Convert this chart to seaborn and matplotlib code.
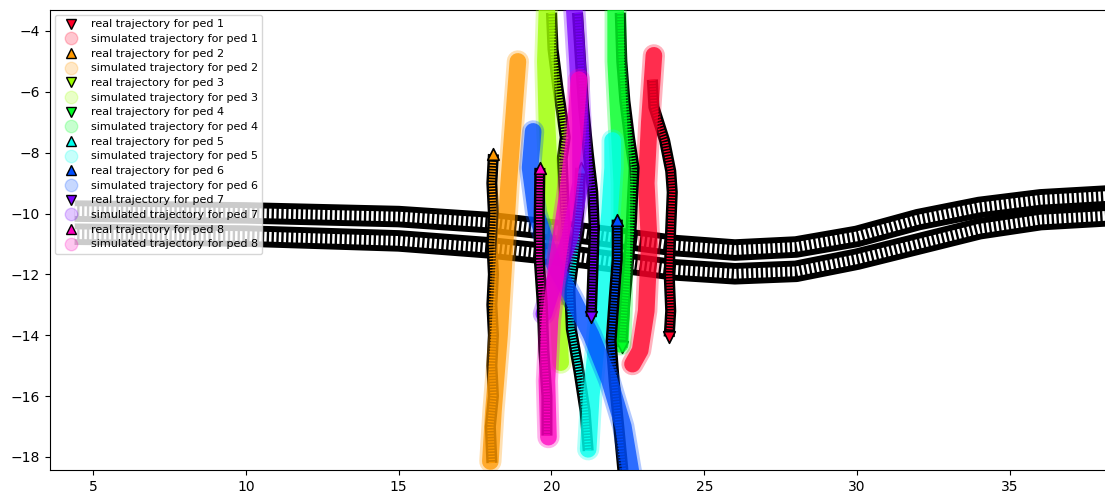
import matplotlib
matplotlib.use("Agg")
import matplotlib.pyplot as plt
from matplotlib.lines import Line2D
import seaborn as sns

# ---------------- data ----------------
ped_ids = [1, 2, 3, 4, 5, 6, 7, 8]
real_markers = ["v", "^", "v", "v", "^", "^", "v", "^"]

# horizontal agents (black bands)
band_a_x = [4.4, 10, 15, 18, 21, 24, 26, 28, 30, 32, 34, 36, 38.6]
band_a_y = [-9.92, -9.98, -10.1, -10.3, -10.65, -11.05, -11.2, -11.1, -10.75, -10.2, -9.8, -9.55, -9.4]
band_b_x = [4.4, 10, 15, 18, 21, 24, 26, 28, 30, 32, 34, 36, 38.6]
band_b_y = [-10.68, -10.74, -10.9, -11.13, -11.45, -11.85, -11.98, -11.9, -11.5, -11.0, -10.5, -10.2, -10.05]

ped1_real_x = [23.3, 23.35, 23.7, 23.9, 23.95, 23.9, 23.85, 23.9, 23.85]
ped1_real_y = [-5.6, -6.5, -7.6, -8.6, -9.3, -10.5, -12.0, -13.2, -14.05]
ped1_sim_x = [23.35, 23.2, 23.1, 23.2, 23.1, 22.9, 22.65]
ped1_sim_y = [-4.8, -7.0, -9.0, -11.0, -13.2, -14.5, -14.95]

ped2_real_x = [18.05, 18.0, 18.1, 18.05, 18.1, 18.05, 18.1, 18.05, 18.1, 18.05, 18.1]
ped2_real_y = [-18.2, -17.0, -16.0, -15.0, -14.0, -13.0, -12.0, -11.0, -10.0, -9.0, -8.05]
ped2_sim_x = [18.0, 18.1, 18.3, 18.45, 18.6, 18.75, 18.9]
ped2_sim_y = [-18.15, -16.5, -14.0, -11.5, -9.0, -7.0, -5.0]

ped3_real_x = [20.0, 20.05, 20.2, 20.35, 20.45, 20.35, 20.4, 20.45, 20.5, 20.5]
ped3_real_y = [-3.4, -4.6, -5.8, -6.8, -7.5, -8.2, -9.5, -10.8, -12.0, -13.0]
ped3_sim_x = [19.85, 19.8, 19.85, 19.95, 20.1, 20.2, 20.3]
ped3_sim_y = [-3.35, -5.0, -7.0, -9.0, -11.0, -13.0, -14.9]

ped4_real_x = [22.25, 22.3, 22.4, 22.55, 22.7, 22.65, 22.6, 22.5, 22.4, 22.3]
ped4_real_y = [-3.4, -5.0, -6.3, -7.5, -8.5, -9.5, -10.6, -11.8, -12.9, -14.4]
ped4_sim_x = [22.1, 22.1, 22.2, 22.3, 22.3, 22.3, 22.25]
ped4_sim_y = [-3.35, -5.0, -7.0, -9.0, -11.0, -13.0, -14.3]

ped5_real_x = [21.2, 21.1, 20.9, 20.65, 20.6, 20.8, 20.9, 20.95]
ped5_real_y = [-17.8, -16.5, -15.2, -13.8, -12.5, -11.0, -9.8, -8.5]
ped5_sim_x = [21.2, 21.3, 21.5, 21.7, 21.9, 22.0, 22.0]
ped5_sim_y = [-17.75, -16.0, -14.0, -12.0, -10.0, -8.5, -7.6]

ped6_real_x = [22.35, 22.2, 22.05, 21.95, 22.05, 22.15, 22.15]
ped6_real_y = [-18.6, -17.0, -15.5, -14.2, -12.8, -11.5, -10.2]
ped6_sim_x = [22.65, 22.35, 21.9, 21.3, 20.7, 20.0, 19.5, 19.3, 19.4]
ped6_sim_y = [-18.8, -17.0, -15.5, -14.0, -12.8, -11.5, -10.0, -8.5, -7.3]

ped7_real_x = [20.85, 20.95, 21.05, 21.2, 21.35, 21.4, 21.35, 21.3]
ped7_real_y = [-3.4, -5.0, -6.5, -8.0, -9.3, -10.5, -12.0, -13.4]
ped7_sim_x = [20.75, 20.85, 20.95, 20.95, 20.6, 20.1, 19.75]
ped7_sim_y = [-3.35, -5.0, -7.0, -9.0, -10.8, -12.2, -13.3]

ped8_real_x = [19.85, 19.85, 19.75, 19.7, 19.6, 19.6, 19.62]
ped8_real_y = [-17.3, -16.0, -14.5, -13.0, -11.5, -10.0, -8.5]
ped8_sim_x = [19.9, 19.85, 19.95, 20.2, 20.5, 20.75, 20.9]
ped8_sim_y = [-17.35, -15.5, -13.5, -11.5, -9.5, -7.5, -5.6]

real_xs = [ped1_real_x, ped2_real_x, ped3_real_x, ped4_real_x,
           ped5_real_x, ped6_real_x, ped7_real_x, ped8_real_x]
real_ys = [ped1_real_y, ped2_real_y, ped3_real_y, ped4_real_y,
           ped5_real_y, ped6_real_y, ped7_real_y, ped8_real_y]
sim_xs = [ped1_sim_x, ped2_sim_x, ped3_sim_x, ped4_sim_x,
          ped5_sim_x, ped6_sim_x, ped7_sim_x, ped8_sim_x]
sim_ys = [ped1_sim_y, ped2_sim_y, ped3_sim_y, ped4_sim_y,
          ped5_sim_y, ped6_sim_y, ped7_sim_y, ped8_sim_y]

x_ticks = [5, 10, 15, 20, 25, 30, 35]
y_ticks = [-4, -6, -8, -10, -12, -14, -16, -18]

# ---------------- figure ----------------
fig = plt.figure(figsize=(11.05, 4.97), dpi=100)
ax = fig.add_axes([50 / 1105, 27 / 497, 1056 / 1105, 460 / 497])

cmap = plt.get_cmap("gist_rainbow")
colors = [cmap(i / (len(ped_ids) - 1)) for i in range(len(ped_ids))]


def striped(xs, ys, outer_lw, inner_lw, inner_color, on, off, z):
    sns.lineplot(x=xs, y=ys, sort=False, estimator=None, ax=ax, color="black",
                 linewidth=outer_lw, solid_capstyle="butt", legend=False, zorder=z)
    sns.lineplot(x=xs, y=ys, sort=False, estimator=None, ax=ax, color=inner_color,
                 linewidth=inner_lw, linestyle=(0, (on / inner_lw, off / inner_lw)),
                 dash_capstyle="butt", legend=False, zorder=z + 0.01)


# black horizontal bands
striped(band_a_x, band_a_y, 15.5, 7.0, "white", 1.8, 1.7, 1)
striped(band_b_x, band_b_y, 15.5, 7.0, "white", 1.8, 1.7, 1.1)

handles = []
for i, pid in enumerate(ped_ids):
    c = colors[i]
    z = 2 + i
    striped(real_xs[i], real_ys[i], 8.0, 4.5, c, 0.9, 1.2, z)
    sns.scatterplot(x=[real_xs[i][-1]], y=[real_ys[i][-1]], ax=ax,
                    marker=real_markers[i], s=70, color=c, edgecolor="black",
                    linewidth=1.2, legend=False, zorder=z + 0.05)
    sns.lineplot(x=sim_xs[i], y=sim_ys[i], sort=False, estimator=None, ax=ax,
                 color=c, linewidth=16, alpha=0.3, solid_capstyle="round",
                 legend=False, zorder=z + 0.1)
    sns.lineplot(x=sim_xs[i], y=sim_ys[i], sort=False, estimator=None, ax=ax,
                 color=c, linewidth=12, alpha=0.75, solid_capstyle="round",
                 legend=False, zorder=z + 0.11)
    handles.append(Line2D([], [], linestyle="none", marker=real_markers[i],
                          markerfacecolor=c, markeredgecolor="black",
                          markersize=6.5, label=f"real trajectory for ped {pid}"))
    handles.append(Line2D([], [], linestyle="none", marker="o",
                          markerfacecolor=c, markeredgecolor=c, alpha=0.22,
                          markersize=9, label=f"simulated trajectory for ped {pid}"))

ax.set_xlim(3.594, 38.14)
ax.set_ylim(-18.43, -3.31)
ax.set_xticks(x_ticks)
ax.set_yticks(y_ticks)
ax.set_xlabel("")
ax.set_ylabel("")
ax.legend(handles=handles, loc="upper left", fontsize=8, labelspacing=0.42,
          borderaxespad=0.45)

fig.savefig("out.png", dpi=100)
